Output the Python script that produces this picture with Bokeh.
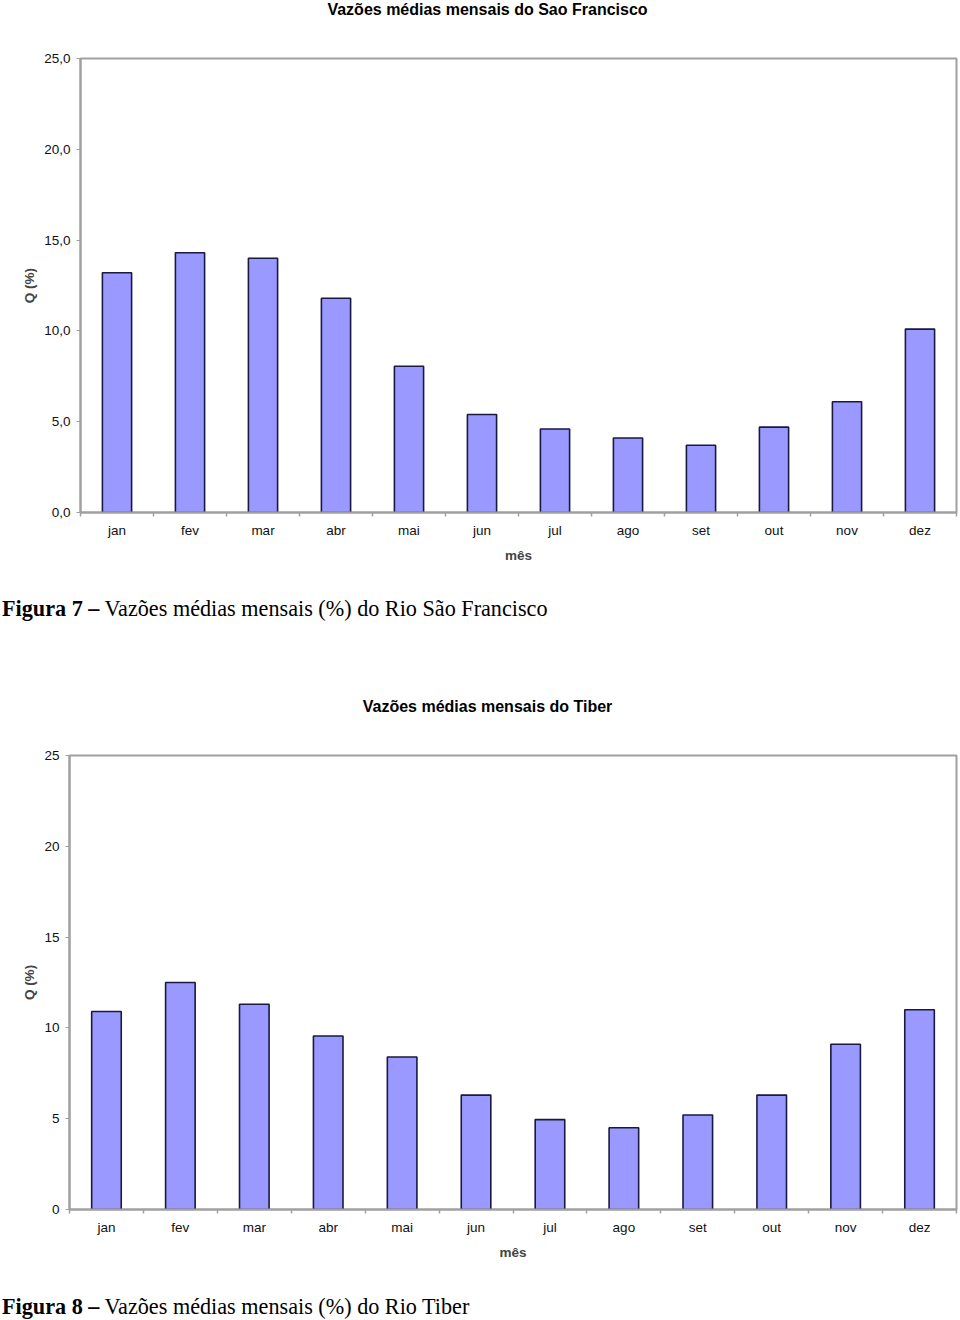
from bokeh.plotting import figure
from bokeh.models import Range1d, FixedTicker, LinearAxis, Div
from bokeh.embed import file_html
from bokeh.resources import INLINE
import numpy as np

months = ["jan", "fev", "mar", "abr", "mai", "jun", "jul", "ago", "set", "out", "nov", "dez"]
sao_francisco = [13.2, 14.3, 14.0, 11.8, 8.05, 5.4, 4.6, 4.1, 3.7, 4.7, 6.1, 10.1]
tiber = [10.9, 12.5, 11.3, 9.55, 8.4, 6.3, 4.95, 4.5, 5.2, 6.3, 9.1, 11.0]
y_ticks = [0, 5, 10, 15, 20, 25]
y_labels_sf = ["0,0", "5,0", "10,0", "15,0", "20,0", "25,0"]
y_labels_tb = ["0", "5", "10", "15", "20", "25"]

title_sf = "Vazões médias mensais do Sao Francisco"
title_tb = "Vazões médias mensais do Tiber"
caption_sf = ("Figura 7 –", "Vazões médias mensais (%) do Rio São Francisco")
caption_tb = ("Figura 8 –", "Vazões médias mensais (%) do Rio Tiber")

FONT = "Liberation Sans"
GRAY = "#a0a0a0"
GRID = "#c4c4c4"


def make_title(text):
    html = ('<div style="box-sizing: border-box; font-family: \'Liberation Sans\', Arial, sans-serif; '
            'font-size: 16px; font-weight: bold; color: #000; line-height: 20px; padding-left: 15px; '
            'width: 960px; text-align: center; white-space: nowrap;">%s</div>' % text)
    return Div(text=html, width=960, height=20, margin=(0, 0, 0, 0))


def make_chart(values, ylabels, height, left, top, bottom):
    n = len(months)
    centers = list(np.arange(n) + 0.5)
    p = figure(width=960, height=height, output_backend="svg", toolbar_location=None,
               x_range=Range1d(0, n), y_range=Range1d(0, 25),
               min_border_left=left, min_border_right=4, min_border_top=top,
               min_border_bottom=bottom, x_axis_type=None, y_axis_type=None,
               background_fill_color="white", border_fill_color="white")
    p.outline_line_color = GRAY
    p.outline_line_width = 2

    p.vbar(x=centers, top=values, width=0.4, fill_color="#9999ff",
           line_color="#1a1a40", line_width=1.6)

    # y axis
    yax = LinearAxis(ticker=FixedTicker(ticks=y_ticks))
    yax.major_label_overrides = {t: l for t, l in zip(y_ticks, ylabels)}
    yax.axis_label = "Q (%)"
    yax.axis_label_text_font = FONT
    yax.axis_label_text_font_size = "13.5px"
    yax.axis_label_text_font_style = "bold"
    yax.axis_label_standoff = 4
    yax.major_label_text_font = FONT
    yax.major_label_text_font_size = "13.5px"
    yax.major_label_text_color = "#111111"
    yax.major_label_standoff = 6
    yax.major_tick_out = 4
    yax.major_tick_in = 0
    yax.minor_tick_out = 0
    yax.minor_tick_in = 0
    yax.axis_line_color = GRAY
    yax.axis_line_width = 2
    yax.major_tick_line_color = GRAY
    p.add_layout(yax, "left")

    # x axis: labels at centres, ticks at category boundaries
    xax = LinearAxis(ticker=FixedTicker(ticks=centers, minor_ticks=list(range(n + 1))))
    xax.major_label_overrides = {c: m for c, m in zip(centers, months)}
    xax.axis_label = "mês"
    xax.axis_label_text_font = FONT
    xax.axis_label_text_font_size = "13.5px"
    xax.axis_label_text_font_style = "bold"
    xax.axis_label_standoff = 7
    xax.major_label_text_font = FONT
    xax.major_label_text_font_size = "13.5px"
    xax.major_label_text_color = "#111111"
    xax.major_label_standoff = 6
    xax.major_tick_out = 0
    xax.major_tick_in = 0
    xax.minor_tick_out = 4
    xax.minor_tick_in = 0
    xax.minor_tick_line_color = GRAY
    xax.minor_tick_line_width = 1.5
    xax.axis_line_color = GRAY
    xax.axis_line_width = 2
    p.add_layout(xax, "below")

    p.xgrid.visible = False
    p.ygrid.ticker = FixedTicker(ticks=y_ticks)
    p.ygrid.grid_line_color = GRID
    p.ygrid.grid_line_width = 1.5
    p.ygrid.level = "underlay"
    p.margin = (0, 0, 0, 0)
    return p


def make_caption(parts, height, pad):
    html = ('<div style="font-family: \'Liberation Serif\', \'Times New Roman\', serif; '
            'font-size: 22.2px; color: #000; padding-top: %dpx; padding-left: 2px; white-space: nowrap;">'
            '<b>%s</b> %s</div>' % (pad, parts[0], parts[1]))
    return Div(text=html, width=960, height=height, margin=(0, 0, 0, 0))


t1 = make_title(title_sf)
p1 = make_chart(sao_francisco, y_labels_sf, 560, 80, 38, 68)
c1 = make_caption(caption_sf, 117, 13)
t2 = make_title(title_tb)
p2 = make_chart(tiber, y_labels_tb, 563, 69, 38, 71)
c2 = make_caption(caption_tb, 40, 11)

open("out.html", "w").write(file_html([t1, p1, c1, t2, p2, c2], INLINE))
